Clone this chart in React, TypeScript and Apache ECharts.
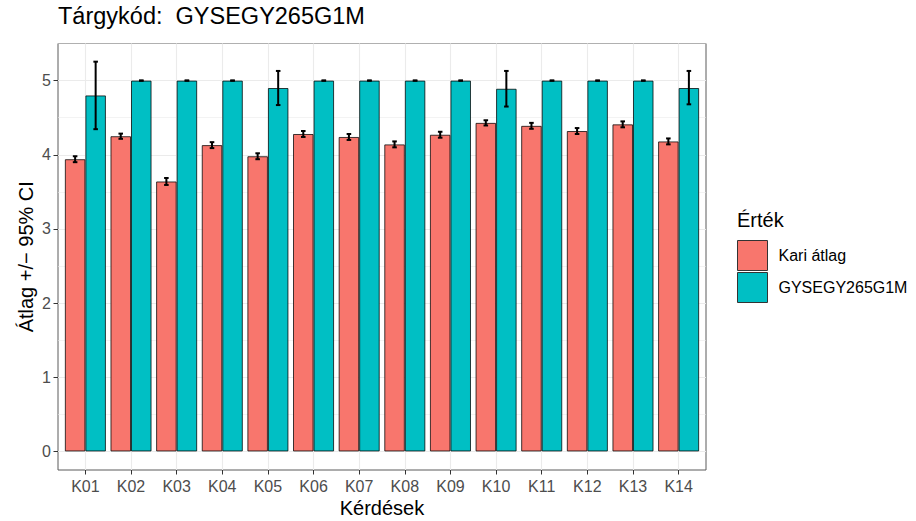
import React, { useEffect, useRef } from "react";
import * as echarts from "echarts";

const categories = ["K01", "K02", "K03", "K04", "K05", "K06", "K07", "K08", "K09", "K10", "K11", "K12", "K13", "K14"];
const groupNames = ["Kari átlag", "GYSEGY265G1M"];
const groupColors = ["#F8766D", "#00BFC4"];

const kariMean = [3.94, 4.25, 3.64, 4.13, 3.98, 4.28, 4.24, 4.14, 4.27, 4.43, 4.39, 4.32, 4.41, 4.18];
const kariLow = [3.9, 4.215, 3.593, 4.09, 3.94, 4.24, 4.2, 4.1, 4.23, 4.395, 4.35, 4.28, 4.37, 4.14];
const kariHigh = [3.98, 4.285, 3.687, 4.17, 4.02, 4.32, 4.28, 4.18, 4.31, 4.465, 4.43, 4.36, 4.45, 4.22];

const targyMean = [4.8, 5, 5, 5, 4.9, 5, 5, 5, 5, 4.89, 5, 5, 5, 4.9];
const targyLow = [4.345, 5, 5, 5, 4.67, 5, 5, 5, 5, 4.65, 5, 5, 5, 4.68];
const targyHigh = [5.255, 5, 5, 5, 5.13, 5, 5, 5, 5, 5.13, 5, 5, 5, 5.13];

const yTickValues = [0, 1, 2, 3, 4, 5];

const titleText = "Tárgykód:  GYSEGY265G1M";
const xTitle = "Kérdések";
const yTitle = "Átlag +/− 95% CI";
const legendTitle = "Érték";

const FONT = "'Liberation Sans', Arial, Helvetica, sans-serif";

export default function App() {
  const ref = useRef<HTMLDivElement>(null);

  useEffect(() => {
    document.body.style.margin = "0";
    if (!ref.current) return;
    const chart = echarts.init(ref.current, undefined, { renderer: "svg" });

    const panelLeft = 58;
    const panelTop = 43.5;
    const panelW = 648;
    const panelH = 426.5;
    const unit = panelW / 14.2;
    const barLeft = panelLeft + 0.1 * unit;
    const barW = 14 * unit;

    const grid1Major = "#EBEBEB";
    const T = "transparent";

    const errSeries = (low: number[], high: number[], sign: number, name: string) => ({
      type: "custom",
      name,
      xAxisIndex: 1,
      yAxisIndex: 3,
      z: 5,
      silent: true,
      encode: { x: 0, y: [1, 2] },
      data: low.map((l, i) => [i, l, high[i]]),
      renderItem: (params: any, api: any) => {
        const i = api.value(0);
        const lo = api.coord([i, api.value(1)]);
        const hi = api.coord([i, api.value(2)]);
        const cw = api.size([1, 0])[0];
        const x = lo[0] + sign * cw * 0.225;
        const hw = cw * 0.05;
        const st = { stroke: "#000", lineWidth: 2 };
        return {
          type: "group",
          children: [
            { type: "line", shape: { x1: x, y1: lo[1], x2: x, y2: hi[1] }, style: st },
            { type: "line", shape: { x1: x - hw, y1: lo[1], x2: x + hw, y2: lo[1] }, style: st },
            { type: "line", shape: { x1: x - hw, y1: hi[1], x2: x + hw, y2: hi[1] }, style: st },
          ],
        };
      },
    });

    const option: any = {
      animation: false,
      textStyle: { fontFamily: FONT },
      grid: [
        {
          left: panelLeft,
          top: panelTop,
          width: panelW,
          height: panelH,
          show: true,
          borderColor: "#5a5a5a",
          borderWidth: 1,
          backgroundColor: "#fff",
          containLabel: false,
        },
        {
          left: barLeft,
          top: panelTop,
          width: barW,
          height: panelH,
          containLabel: false,
        },
      ],
      xAxis: [
        {
          type: "value",
          gridIndex: 0,
          min: -0.6,
          max: 13.6,
          interval: 0.2,
          axisLine: { show: false, onZero: false },
          axisTick: { show: false },
          axisLabel: { show: false },
          splitLine: { show: true, lineStyle: { color: [T, T, T, grid1Major, T], width: 1.1 } },
        },
        {
          type: "category",
          gridIndex: 1,
          data: categories,
          boundaryGap: true,
          position: "bottom",
          axisLine: { show: false, onZero: false },
          axisTick: { show: true, alignWithLabel: true, length: 4.5, lineStyle: { color: "#333", width: 1 } },
          axisLabel: { show: true, color: "#4D4D4D", fontSize: 16, margin: 8, fontFamily: FONT },
          splitLine: { show: false },
        },
      ],
      yAxis: [
        {
          type: "value",
          gridIndex: 0,
          min: -0.25,
          max: 5.5,
          interval: 0.25,
          axisLine: { show: false, onZero: false },
          axisTick: { show: true, customValues: yTickValues, length: 4.5, lineStyle: { color: "#333", width: 1 } },
          axisLabel: { show: true, customValues: yTickValues, color: "#4D4D4D", fontSize: 16, margin: 7, fontFamily: FONT },
          splitLine: { show: false },
        },
        {
          type: "value",
          gridIndex: 0,
          position: "right",
          min: -0.25,
          max: 5.5,
          interval: 0.25,
          axisLine: { show: false, onZero: false },
          axisTick: { show: false },
          axisLabel: { show: false },
          splitLine: { show: true, lineStyle: { color: [T, grid1Major, T, T], width: 1.1 } },
        },
        {
          type: "value",
          gridIndex: 0,
          position: "right",
          min: -0.25,
          max: 5.5,
          interval: 0.25,
          axisLine: { show: false, onZero: false },
          axisTick: { show: false },
          axisLabel: { show: false },
          splitLine: { show: true, lineStyle: { color: [T, T, T, grid1Major], width: 0.6 } },
        },
        {
          type: "value",
          gridIndex: 1,
          min: -0.25,
          max: 5.5,
          axisLine: { show: false, onZero: false },
          axisTick: { show: false },
          axisLabel: { show: false },
          splitLine: { show: false },
        },
      ],
      legend: {
        data: groupNames,
        orient: "vertical",
        left: 737,
        top: 240,
        padding: 0,
        itemWidth: 30,
        itemHeight: 30,
        itemGap: 1,
        icon: "rect",
        selectedMode: false,
        textStyle: { fontSize: 16, color: "#000", fontFamily: FONT, padding: [0, 0, 0, 6] },
        itemStyle: { borderColor: "#333", borderWidth: 1 },
      },
      series: [
        {
          type: "bar",
          name: groupNames[0],
          xAxisIndex: 1,
          yAxisIndex: 3,
          data: kariMean,
          barGap: "0%",
          barCategoryGap: "10%",
          itemStyle: { color: groupColors[0], borderColor: "rgba(0,0,0,0.75)", borderWidth: 1 },
          z: 2,
        },
        {
          type: "bar",
          name: groupNames[1],
          xAxisIndex: 1,
          yAxisIndex: 3,
          data: targyMean,
          barGap: "0%",
          barCategoryGap: "10%",
          itemStyle: { color: groupColors[1], borderColor: "rgba(0,0,0,0.75)", borderWidth: 1 },
          z: 2,
        },
        errSeries(kariLow, kariHigh, -1, "ci-kari"),
        errSeries(targyLow, targyHigh, 1, "ci-targy"),
      ],
      graphic: [
        {
          type: "text",
          left: 58,
          top: 4,
          style: { text: titleText, fontSize: 23.5, fill: "#000", fontFamily: FONT },
        },
        {
          type: "text",
          x: panelLeft + panelW / 2,
          y: 508,
          style: { text: xTitle, fontSize: 20, fill: "#000", fontFamily: FONT, align: "center", verticalAlign: "middle" },
        },
        {
          type: "text",
          x: 26,
          y: panelTop + panelH / 2,
          rotation: Math.PI / 2,
          style: { text: yTitle, fontSize: 20, fill: "#000", fontFamily: FONT, align: "center", verticalAlign: "middle" },
        },
        {
          type: "text",
          x: 737,
          y: 220,
          style: { text: legendTitle, fontSize: 20, fill: "#000", fontFamily: FONT, align: "left", verticalAlign: "middle" },
        },
      ],
    };

    chart.setOption(option);
    return () => chart.dispose();
  }, []);

  return <div ref={ref} style={{ width: 916, height: 521 }} />;
}
